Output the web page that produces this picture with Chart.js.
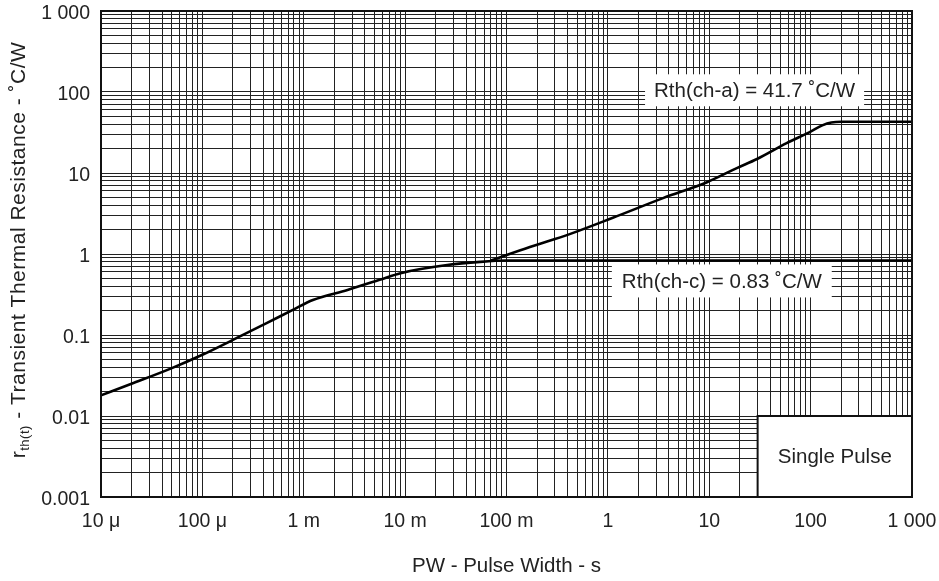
<!DOCTYPE html>
<html>
<head>
<meta charset="utf-8">
<script src="https://cdn.jsdelivr.net/npm/chart.js@4.4.1/dist/chart.umd.min.js"></script>
<style>
  html, body { margin: 0; padding: 0; background: #fff; }
</style>
</head>
<body>
<canvas id="thermalChart" width="939" height="581"></canvas>
<script>
// --- values ---
const X_DECADES = [1e-5, 1e-4, 1e-3, 1e-2, 1e-1, 1, 10, 100, 1000];
const X_TICK_LABELS = ["10 μ", "100 μ", "1 m", "10 m", "100 m", "1", "10", "100", "1 000"];
const Y_DECADES = [1e-3, 1e-2, 1e-1, 1, 10, 100, 1000];
const Y_TICK_LABELS = ["0.001", "0.01", "0.1", "1", "10", "100", "1 000"];

// channel-to-case curve (flat at 0.83 after ~0.1 s)
const CH_C_PW = [1e-5, 2e-5, 5e-5, 1e-4, 2e-4, 4.3e-4, 7.8e-4, 1.23e-3, 2.7e-3, 5.6e-3, 9e-3, 0.026, 0.055, 0.1, 1000];
const CH_C_R = [0.018, 0.025, 0.039, 0.057, 0.087, 0.14, 0.204, 0.27, 0.36, 0.48, 0.58, 0.73, 0.80, 0.83, 0.83];

// channel-to-ambient curve (branches off near 70 ms)
const CH_A_PW = [0.07, 0.17, 0.42, 1.12, 3.5, 9.5, 18.7, 29.6, 58, 98, 132, 160, 200, 1000];
const CH_A_R = [0.83, 1.22, 1.76, 2.8, 4.9, 7.7, 11.5, 14.9, 23.4, 32, 39, 42, 43, 43];

const LABEL_CH_A = "Rth(ch-a) = 41.7 ˚C/W";
const LABEL_CH_C = "Rth(ch-c) = 0.83 ˚C/W";
const LABEL_PULSE = "Single Pulse";
const X_TITLE = "PW - Pulse Width - s";
const Y_TITLE_MAIN = "r";
const Y_TITLE_SUB = "th(t)";
const Y_TITLE_REST = " - Transient Thermal Resistance - ˚C/W";

// where the notes sit, in data units
const CH_A_ANCHOR = { x: 28, y: 105 };
const CH_C_ANCHOR = { x: 13.3, y: 0.465 };
const PULSE_BOX = { x0: 30, x1: 1000, y0: 0.001, y1: 0.01 };

const FONT = "'Liberation Sans', Arial, sans-serif";
const TEXT_COLOR = "#222";

function gridValues(decades) {
  const out = [];
  for (let i = 0; i < decades.length - 1; i++) {
    for (let m = 1; m <= 9; m++) out.push(m * decades[i]);
  }
  out.push(decades[decades.length - 1]);
  return out;
}

function decadeLabel(decades, labels, v) {
  const k = decades.findIndex((d) => Math.abs(Math.log10(d) - Math.log10(v)) < 1e-6);
  return k >= 0 ? labels[k] : "";
}

function toPoints(xs, ys) {
  return xs.map((x, i) => ({ x: x, y: ys[i] }));
}

function drawNote(ctx, text, cx, cy, padX, h) {
  ctx.font = "20.5px " + FONT;
  const w = ctx.measureText(text).width + padX * 2;
  ctx.fillStyle = "#fff";
  ctx.fillRect(cx - w / 2, cy - h / 2, w, h);
  ctx.fillStyle = TEXT_COLOR;
  ctx.textAlign = "center";
  ctx.textBaseline = "middle";
  ctx.fillText(text, cx, cy + 1);
}

const notesPlugin = {
  id: "notes",
  beforeDatasetsDraw(chart) {
    const { ctx, scales } = chart;
    const xs = scales.x;
    const ys = scales.y;
    ctx.save();
    // single pulse box
    const l = xs.getPixelForValue(PULSE_BOX.x0);
    const r = xs.getPixelForValue(PULSE_BOX.x1);
    const t = ys.getPixelForValue(PULSE_BOX.y1);
    const b = ys.getPixelForValue(PULSE_BOX.y0);
    ctx.fillStyle = "#fff";
    ctx.fillRect(l, t, r - l, b - t);
    ctx.strokeStyle = "#111";
    ctx.lineWidth = 2;
    ctx.beginPath();
    ctx.moveTo(l, b);
    ctx.lineTo(l, t);
    ctx.lineTo(r, t);
    ctx.stroke();
    ctx.font = "20.5px " + FONT;
    ctx.fillStyle = TEXT_COLOR;
    ctx.textAlign = "center";
    ctx.textBaseline = "middle";
    ctx.fillText(LABEL_PULSE, (l + r) / 2, (t + b) / 2 + 1);

    drawNote(ctx, LABEL_CH_A, xs.getPixelForValue(CH_A_ANCHOR.x), ys.getPixelForValue(CH_A_ANCHOR.y), 9, 32);
    drawNote(ctx, LABEL_CH_C, xs.getPixelForValue(CH_C_ANCHOR.x), ys.getPixelForValue(CH_C_ANCHOR.y), 10, 33);
    ctx.restore();
  },
  afterDraw(chart) {
    const { ctx, chartArea } = chart;
    ctx.save();
    // frame
    ctx.strokeStyle = "#111";
    ctx.lineWidth = 2;
    ctx.strokeRect(chartArea.left, chartArea.top, chartArea.right - chartArea.left, chartArea.bottom - chartArea.top);

    // x title
    ctx.fillStyle = TEXT_COLOR;
    ctx.font = "20.5px " + FONT;
    ctx.textAlign = "center";
    ctx.textBaseline = "middle";
    ctx.fillText(X_TITLE, (chartArea.left + chartArea.right) / 2, chartArea.bottom + 69);

    // y title with subscript
    const cy = (chartArea.top + chartArea.bottom) / 2 - 4;
    ctx.translate(18, cy);
    ctx.rotate(-Math.PI / 2);
    ctx.textAlign = "left";
    ctx.textBaseline = "alphabetic";
    ctx.letterSpacing = "0.5px";
    ctx.font = "21px " + FONT;
    const wMain = ctx.measureText(Y_TITLE_MAIN).width;
    const wRest = ctx.measureText(Y_TITLE_REST).width;
    ctx.font = "13px " + FONT;
    const wSub = ctx.measureText(Y_TITLE_SUB).width;
    let x = -(wMain + wSub + wRest) / 2;
    ctx.font = "21px " + FONT;
    ctx.fillText(Y_TITLE_MAIN, x, 7);
    x += wMain;
    ctx.font = "13px " + FONT;
    ctx.fillText(Y_TITLE_SUB, x, 11);
    x += wSub;
    ctx.font = "21px " + FONT;
    ctx.fillText(Y_TITLE_REST, x, 7);
    ctx.restore();
  },
};

function lineDataset(xs, ys) {
  return {
    data: toPoints(xs, ys),
    borderColor: "#000",
    borderWidth: 2.6,
    pointRadius: 0,
    fill: false,
    cubicInterpolationMode: "monotone",
  };
}

const ctx = document.getElementById("thermalChart").getContext("2d");
new Chart(ctx, {
  type: "line",
  data: {
    datasets: [lineDataset(CH_C_PW, CH_C_R), lineDataset(CH_A_PW, CH_A_R)],
  },
  options: {
    responsive: false,
    animation: false,
    devicePixelRatio: 1,
    layout: { padding: { top: 11, right: 27, left: 0, bottom: 0 } },
    plugins: { legend: { display: false }, tooltip: { enabled: false } },
    scales: {
      x: {
        type: "logarithmic",
        min: 1e-5,
        max: 1000,
        afterBuildTicks: (scale) => {
          scale.ticks = gridValues(X_DECADES).map((v) => ({ value: v }));
        },
        afterFit: (scale) => {
          scale.height = 84;
          scale.paddingLeft = 0;
          scale.paddingRight = 0;
        },
        grid: { color: "#222", lineWidth: 1, drawTicks: false },
        border: { display: false },
        ticks: {
          autoSkip: false,
          maxRotation: 0,
          padding: 13,
          color: TEXT_COLOR,
          font: { family: FONT, size: 19.5 },
          callback: (v) => decadeLabel(X_DECADES, X_TICK_LABELS, v),
        },
      },
      y: {
        type: "logarithmic",
        min: 1e-3,
        max: 1000,
        afterBuildTicks: (scale) => {
          scale.ticks = gridValues(Y_DECADES).map((v) => ({ value: v }));
        },
        afterFit: (scale) => {
          scale.width = 101;
          scale.paddingTop = 0;
          scale.paddingBottom = 0;
        },
        grid: { color: "#222", lineWidth: 1, drawTicks: false },
        border: { display: false },
        ticks: {
          autoSkip: false,
          padding: 11,
          labelOffset: 3,
          color: TEXT_COLOR,
          font: { family: FONT, size: 19.5 },
          callback: (v) => decadeLabel(Y_DECADES, Y_TICK_LABELS, v),
        },
      },
    },
  },
  plugins: [notesPlugin],
});
</script>
</body>
</html>
